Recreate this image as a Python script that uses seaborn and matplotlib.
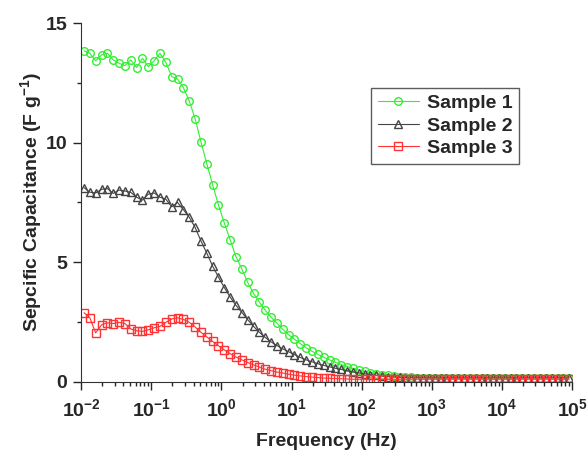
import numpy as np
import pandas as pd
import matplotlib.pyplot as plt
import seaborn as sns
from matplotlib.ticker import LogLocator, NullFormatter, MultipleLocator

# frequency points (Hz), 12 per decade
freq = [0.0110, 0.0133, 0.0161, 0.0196, 0.0237, 0.0287, 0.0348, 0.0421, 0.0511, 0.0619, 0.0749, 0.0908,
        0.110, 0.133, 0.161, 0.196, 0.237, 0.287, 0.348, 0.421, 0.511, 0.619, 0.749, 0.908,
        1.10, 1.33, 1.61, 1.96, 2.37, 2.87, 3.48, 4.21, 5.11, 6.19, 7.49, 9.08,
        11.0, 13.3, 16.1, 19.6, 23.7, 28.7, 34.8, 42.1, 51.1, 61.9, 74.9, 90.8,
        110, 133, 161, 196, 237, 287, 348, 421, 511, 619, 749, 908,
        1100, 1330, 1610, 1960, 2370, 2870, 3480, 4210, 5110, 6190, 7490, 9080,
        11000, 13300, 16100, 19600, 23700, 28700, 34800, 42100, 51100, 61900, 74900, 90800]

sample1 = [13.84, 13.74, 13.42, 13.67, 13.74, 13.46, 13.32, 13.22, 13.46, 13.14, 13.53, 13.18,
           13.43, 13.74, 13.36, 12.76, 12.66, 12.30, 11.74, 11.01, 10.03, 9.12, 8.24, 7.39,
           6.64, 5.94, 5.24, 4.71, 4.16, 3.70, 3.33, 3.00, 2.70, 2.45, 2.20, 1.97,
           1.78, 1.60, 1.43, 1.28, 1.15, 1.03, 0.92, 0.82, 0.72, 0.64, 0.57, 0.50,
           0.44, 0.39, 0.34, 0.30, 0.27, 0.24, 0.22, 0.20, 0.19, 0.18, 0.17, 0.16,
           0.16, 0.16, 0.16, 0.16, 0.16, 0.16, 0.16, 0.16, 0.16, 0.16, 0.16, 0.16,
           0.16, 0.16, 0.16, 0.16, 0.16, 0.16, 0.16, 0.16, 0.16, 0.16, 0.16, 0.16]

sample2 = [8.12, 7.93, 7.90, 8.05, 8.08, 7.88, 8.02, 7.98, 7.92, 7.72, 7.60, 7.85,
           7.90, 7.72, 7.64, 7.32, 7.50, 7.20, 6.88, 6.46, 5.89, 5.38, 4.84, 4.38,
           3.94, 3.55, 3.20, 2.90, 2.60, 2.32, 2.07, 1.86, 1.67, 1.52, 1.38, 1.26,
           1.14, 1.02, 0.92, 0.84, 0.76, 0.69, 0.63, 0.57, 0.52, 0.47, 0.42, 0.38,
           0.34, 0.30, 0.27, 0.24, 0.22, 0.20, 0.19, 0.18, 0.17, 0.17, 0.17, 0.17,
           0.17, 0.17, 0.17, 0.17, 0.17, 0.17, 0.17, 0.17, 0.17, 0.17, 0.17, 0.17,
           0.17, 0.17, 0.17, 0.17, 0.17, 0.17, 0.17, 0.17, 0.17, 0.17, 0.17, 0.17]

sample3 = [2.89, 2.68, 2.05, 2.39, 2.47, 2.44, 2.49, 2.44, 2.21, 2.14, 2.11, 2.18,
           2.26, 2.32, 2.49, 2.63, 2.68, 2.61, 2.49, 2.30, 2.07, 1.88, 1.69, 1.51,
           1.34, 1.18, 1.04, 0.92, 0.81, 0.71, 0.62, 0.53, 0.47, 0.41, 0.37, 0.32,
           0.28, 0.25, 0.22, 0.20, 0.18, 0.16, 0.15, 0.14, 0.13, 0.12, 0.11, 0.11,
           0.11, 0.11, 0.11, 0.11, 0.11, 0.11, 0.11, 0.11, 0.11, 0.11, 0.11, 0.11,
           0.11, 0.11, 0.11, 0.11, 0.11, 0.11, 0.11, 0.11, 0.11, 0.11, 0.11, 0.11,
           0.11, 0.11, 0.11, 0.11, 0.11, 0.11, 0.11, 0.11, 0.11, 0.11, 0.11, 0.11]

labels = ["Sample 1", "Sample 2", "Sample 3"]
colors = ["#33ee33", "#444444", "#ff3333"]
markers = ["o", "^", "s"]
xticks = [1e-2, 1e-1, 1e0, 1e1, 1e2, 1e3, 1e4, 1e5]

sns.set_style("ticks")
plt.rcParams['font.family'] = ['Liberation Sans', 'DejaVu Sans']
plt.rcParams['font.weight'] = 'bold'
plt.rcParams['mathtext.fontset'] = 'custom'
plt.rcParams['mathtext.rm'] = 'Liberation Sans:bold'
plt.rcParams['mathtext.bf'] = 'Liberation Sans:bold'
plt.rcParams['mathtext.default'] = 'bf'
plt.rcParams['axes.unicode_minus'] = False

fig = plt.figure(figsize=(5.88, 4.53), dpi=100)
ax = fig.add_axes([0.138, 0.157, 0.835, 0.792])

df = pd.DataFrame({"freq": freq, labels[0]: sample1, labels[1]: sample2, labels[2]: sample3})
for lab, c, m in zip(labels, colors, markers):
    sns.lineplot(data=df, x="freq", y=lab, ax=ax, color=c, marker=m, label=lab,
                 markerfacecolor="none", markeredgecolor=c, markeredgewidth=1.0,
                 markersize=5.5, linewidth=0.8)

ax.set_xscale("log")
ax.set_xlim(1e-2, 1e5)
ax.set_ylim(0, 15)
ax.yaxis.set_major_locator(MultipleLocator(5))
ax.yaxis.set_minor_locator(MultipleLocator(2.5))
ax.set_xticks(xticks)
ax.xaxis.set_minor_locator(LogLocator(base=10, subs=np.arange(2, 10), numticks=20))
ax.xaxis.set_minor_formatter(NullFormatter())
ax.tick_params(axis="both", which="major", direction="out", length=6, width=1)
ax.tick_params(axis="both", which="minor", direction="out", length=3, width=1)
ax.tick_params(axis="x", which="major", labelsize=14, pad=6)
ax.tick_params(axis="y", which="major", labelsize=14, pad=4)
for lbl in ax.get_xticklabels() + ax.get_yticklabels():
    lbl.set_fontweight("bold")

sns.despine(ax=ax)
ax.spines["left"].set_color("#333333")
ax.spines["bottom"].set_color("#333333")

ax.set_xlabel("Frequency (Hz)", fontsize=14, fontweight="bold", labelpad=9)
ax.set_ylabel("Sepcific Capacitance (F g$^{-1}$)", fontsize=14, fontweight="bold", labelpad=1)

leg = ax.legend(loc="upper right", bbox_to_anchor=(0.892, 0.82), fancybox=False,
                frameon=True, edgecolor="#333333", handlelength=2.1, handletextpad=0.4,
                borderpad=0.35, labelspacing=0.25, borderaxespad=0,
                prop={"size": 14, "weight": "bold"})
leg.get_frame().set_linewidth(1.0)

fig.savefig("out.png", dpi=100)
